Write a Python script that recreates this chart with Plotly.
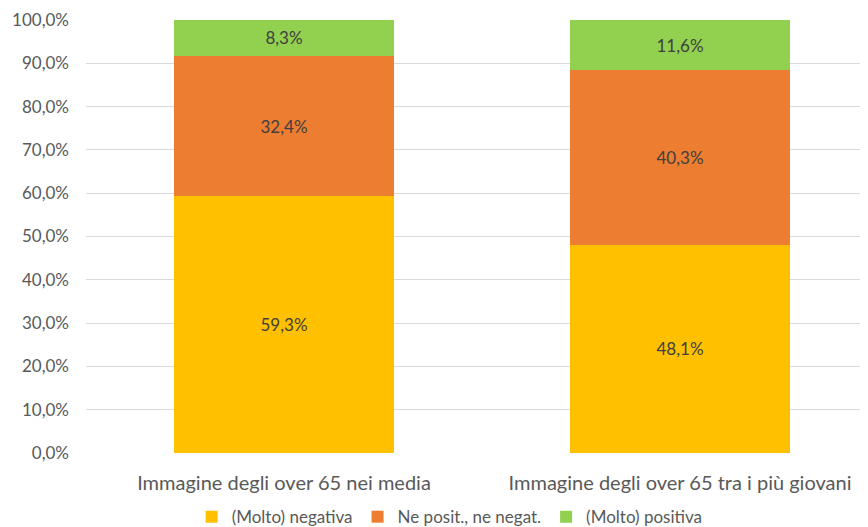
import plotly.graph_objects as go

categories = ["Immagine degli over 65 nei media", "Immagine degli over 65 tra i più giovani"]
series_names = ["(Molto) negativa", "Ne posit., ne negat.", "(Molto) positiva"]
negativa = [59.3, 48.1]
neutra = [32.4, 40.3]
positiva = [8.3, 11.6]
tick_vals = [0, 10, 20, 30, 40, 50, 60, 70, 80, 90, 100]
tick_text = ["0,0%", "10,0%", "20,0%", "30,0%", "40,0%", "50,0%",
             "60,0%", "70,0%", "80,0%", "90,0%", "100,0%"]

colors = ["#FFC000", "#ED7D31", "#92D050"]
FONT = "Lato, Open Sans, sans-serif"

fig = go.Figure()
for name, vals, col in zip(series_names, [negativa, neutra, positiva], colors):
    fig.add_trace(go.Bar(
        x=[0, 1], y=vals, name=name, marker=dict(color=col, line=dict(width=0)),
        width=0.556,
        texttemplate="%{y:.1f}%", textposition="inside", insidetextanchor="middle",
        textfont=dict(family=FONT, size=17, color="#404040"),
        hoverinfo="skip",
    ))

fig.update_layout(
    barmode="stack",
    width=860, height=519,
    margin=dict(l=78, r=0, t=12, b=74, autoexpand=False),
    paper_bgcolor="white", plot_bgcolor="white",
    separators=",.",
    font=dict(family=FONT, color="#595959"),
    xaxis=dict(
        tickmode="array", tickvals=[0, 1], ticktext=categories,
        range=[-0.5, 1.4747], showgrid=False, zeroline=False,
        tickfont=dict(size=20, color="#595959"), ticks="",
        ticklabelstandoff=16, automargin=False,
    ),
    yaxis=dict(
        range=[0, 100], tickmode="array", tickvals=tick_vals, ticktext=tick_text,
        showgrid=True, gridcolor="#D9D9D9", gridwidth=1, zeroline=False,
        tickfont=dict(size=17, color="#595959"), ticks="", ticklabelstandoff=16,
        automargin=False,
    ),
    legend=dict(
        orientation="h", x=0.465, xanchor="center", y=0.019, yanchor="middle",
        yref="container",
        font=dict(size=17, color="#595959"), traceorder="normal",
        itemwidth=30,
    ),
    showlegend=True,
)

fig.write_html("out.html")
